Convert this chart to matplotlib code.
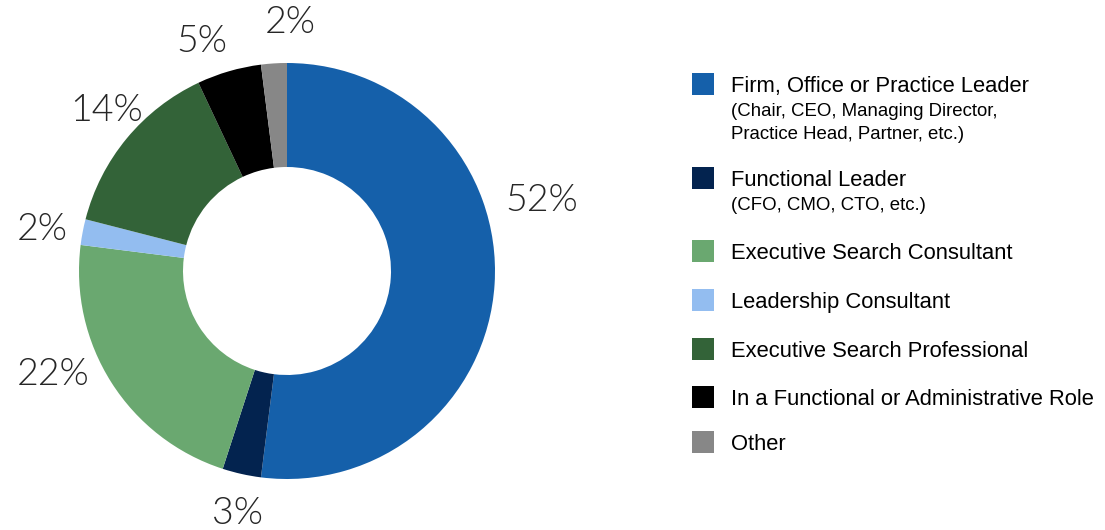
import numpy as np
import matplotlib.pyplot as plt
from matplotlib.patches import Rectangle

# share of respondents by role, in percent
roles = ['Firm, Office or Practice Leader', 'Functional Leader',
         'Executive Search Consultant', 'Leadership Consultant',
         'Executive Search Professional',
         'In a Functional or Administrative Role', 'Other']
role_notes = [['(Chair, CEO, Managing Director,', 'Practice Head, Partner, etc.)'],
              ['(CFO, CMO, CTO, etc.)'], [], [], [], [], []]
shares = [52, 3, 22, 2, 14, 5, 2]
colors = ['#1560aa', '#03234f', '#6aa870', '#93bdf0', '#336338',
          '#000000', '#878787']

# label placement: angle nudge (deg) from wedge middle, and radius
label_nudge = [19.8, 1.0, -9.1, 0.4, -2.6, 4.0, -4.3]
label_r = [1.274, 1.173, 1.226, 1.197, 1.173, 1.192, 1.207]

# legend rows, pixel y of each square centre
legend_y = [84, 178, 251, 300, 349, 397, 442]

W, H = 1105, 530
fig = plt.figure(figsize=(W / 100, H / 100), dpi=100)

# donut centre at (287, 271) px, radius 208 px
cx, cy, R = 287, 271, 208
ax = fig.add_axes([0, 0, 2 * cx / W, 1])
wedges, _ = ax.pie(shares, colors=colors, startangle=90, counterclock=False,
                   radius=1, wedgeprops=dict(width=0.5, linewidth=0))
ax.set_xlim(-cx / R, cx / R)
ax.set_ylim(-(H - cy) / R, cy / R)
ax.set_aspect('equal')
ax.axis('off')

for w, v, dn, r in zip(wedges, shares, label_nudge, label_r):
    ang = np.deg2rad((w.theta1 + w.theta2) / 2 + dn)
    ax.text(r * np.cos(ang), r * np.sin(ang) - 3.5 / R, '%d%%' % v,
            ha='center', va='center', fontsize=27, family='Lato',
            fontweight=300, color='#262626')

# legend drawn by hand so the notes can sit in a smaller font
def fy(py):
    return 1 - py / H

sq = 22
for name, note, c, yc in zip(roles, role_notes, colors, legend_y):
    fig.add_artist(Rectangle((692 / W, fy(yc + sq / 2)), sq / W, sq / H,
                             transform=fig.transFigure, facecolor=c,
                             edgecolor='none'))
    # baseline sits half a cap height below the row centre
    fig.text(731 / W, fy(yc + 7.7), name, ha='left', va='baseline',
             fontsize=15.8, family='Liberation Sans', color='#000000')
    for i, line in enumerate(note):
        fig.text(731 / W, fy(yc + 25.5 + 23 * i + 6.5), line, ha='left',
                 va='baseline', fontsize=13.4, family='Liberation Sans',
                 color='#000000')

fig.savefig('out.png', dpi=100)
